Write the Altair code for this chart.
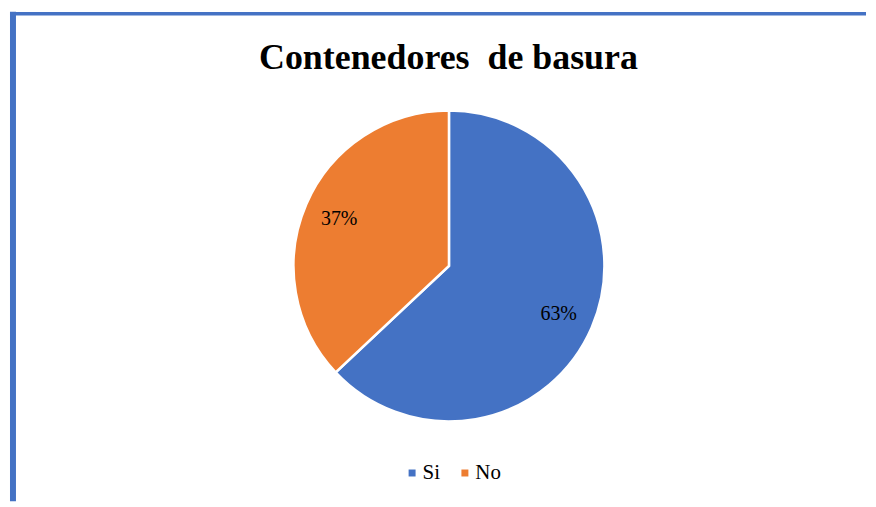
import altair as alt
import pandas as pd

# Data
categories = ["Si", "No"]
values = [63, 37]
labels = ["63%", "37%"]
order_idx = [0, 1]
title_text = "Contenedores\u00a0 de basura"
colors = ["#4472C4", "#ED7D31"]

W, H = 860, 491
CX, CY, R = 441.5, 255, 156
SERIF = "'Times New Roman', 'Liberation Serif', serif"

df = pd.DataFrame({"cat": categories, "val": values, "lab": labels, "idx": order_idx})
one = pd.DataFrame({"a": [0]})

base = alt.Chart(df).encode(
    theta=alt.Theta("val:Q", stack=True),
    order=alt.Order("idx:Q"),
    color=alt.Color(
        "cat:N",
        scale=alt.Scale(domain=categories, range=colors),
        sort=categories,
        legend=alt.Legend(
            orient="none",
            legendX=394,
            legendY=452,
            direction="horizontal",
            title=None,
            symbolType="square",
            symbolSize=49,
            symbolStrokeWidth=0,
            labelFont=SERIF,
            labelFontSize=21,
            labelColor="#000000",
            labelOffset=0,
            columnPadding=14,
        ),
    ),
)

pie = base.mark_arc(radius=R, stroke="white", strokeWidth=2.5).encode(
    x=alt.value(CX), y=alt.value(CY)
)

text = base.mark_text(
    radius=120, font=SERIF, fontSize=20
).encode(text="lab:N", x=alt.value(CX), y=alt.value(CY + 1), color=alt.value("#000000"))

title = alt.Chart(pd.DataFrame({"t": [title_text]})).mark_text(
    font=SERIF, fontSize=36, fontWeight="bold", color="#000000",
    baseline="alphabetic", align="center"
).encode(text="t:N", x=alt.value(441), y=alt.value(57))

left_line = alt.Chart(one).mark_rule(color="#4472C4", strokeWidth=6).encode(
    x=alt.value(4), y=alt.value(0), y2=alt.value(H)
)
top_line = alt.Chart(one).mark_rule(color="#4472C4", strokeWidth=3.5).encode(
    x=alt.value(1), x2=alt.value(W), y=alt.value(2)
)

chart = alt.layer(left_line, top_line, pie, text, title).properties(
    width=W, height=H, padding=0, background="white"
).configure_view(stroke=None).configure_legend(
    labelFont=SERIF, labelFontSize=21, labelColor="#000000"
)

chart.save("out.html", embed_options={"renderer": "svg", "actions": False})
